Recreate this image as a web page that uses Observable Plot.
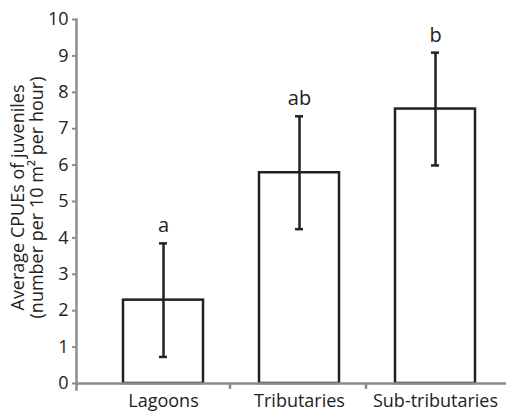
<!DOCTYPE html>
<html>
<head>
<meta charset="utf-8">
<script src="https://cdn.jsdelivr.net/npm/d3@7"></script>
<script src="https://cdn.jsdelivr.net/npm/@observablehq/plot@0.6"></script>
<style>
  html, body { margin: 0; padding: 0; background: #fff; }
</style>
</head>
<body>
<div id="chart"></div>
<script>
const categories = ["Lagoons", "Tributaries", "Sub-tributaries"];
const means = [2.29, 5.79, 7.54];
const errors = [1.56, 1.55, 1.55];
const letters = ["a", "ab", "b"];
const yTicks = [0, 1, 2, 3, 4, 5, 6, 7, 8, 9, 10];
const yLabel = ["Average CPUEs of juveniles", "(number per 10 m\u00B2 per hour)"];
const dividers = ["Tributaries", "Sub-tributaries"];

const data = categories.map((c, i) => ({
  cat: c, mean: means[i], lo: means[i] - errors[i], hi: means[i] + errors[i], letter: letters[i]
}));

const ink = "#222";
const axisGray = "#8c8c8c";

const chart = Plot.plot({
  width: 506,
  height: 412,
  marginLeft: 76,
  marginRight: 0,
  marginTop: 19,
  marginBottom: 29,
  style: { fontFamily: "'Open Sans', sans-serif", fontSize: "18px", color: ink, background: "#fff" },
  x: { domain: categories, range: [94, 504], paddingInner: 0.41, paddingOuter: 0.205, label: null },
  y: { domain: [0, 10], label: null },
  marks: [
    Plot.barY(data, { x: "cat", y: "mean", fill: "white", stroke: ink, strokeWidth: 2.5 }),
    Plot.ruleX(data, { x: "cat", y1: "lo", y2: "hi", stroke: ink, strokeWidth: 2.5 }),
    Plot.tickY(data, { x: "cat", y: "hi", stroke: ink, strokeWidth: 2.5, insetLeft: 36, insetRight: 36 }),
    Plot.tickY(data, { x: "cat", y: "lo", stroke: ink, strokeWidth: 2.5, insetLeft: 36, insetRight: 36 }),
    Plot.text(data, { x: "cat", y: "hi", text: "letter", dy: -11, lineAnchor: "bottom", fontSize: 20, fill: ink }),
    Plot.frame({ anchor: "left", stroke: axisGray, strokeWidth: 2.5, insetBottom: -6 }),
    Plot.frame({ anchor: "bottom", stroke: axisGray, strokeWidth: 2.5 }),
    Plot.ruleX(dividers, { x: d => d, dx: -69.5, y1: 0, y2: -0.16, stroke: axisGray, strokeWidth: 2.5 }),
    Plot.axisY({ ticks: yTicks, tickSize: 4, tickPadding: 4, stroke: axisGray, strokeWidth: 2, fontSize: 18, fill: ink, label: null }),
    Plot.axisX({ tickSize: 0, tickPadding: 11, fontSize: 18, fill: ink, label: null }),
    Plot.text([yLabel.join("\n")], { frameAnchor: "left", textAnchor: "middle", dx: -49.5, dy: -4, rotate: -90, fontSize: 18, lineHeight: 1.06, fill: ink })
  ]
});

document.getElementById("chart").appendChild(chart);
</script>
</body>
</html>
